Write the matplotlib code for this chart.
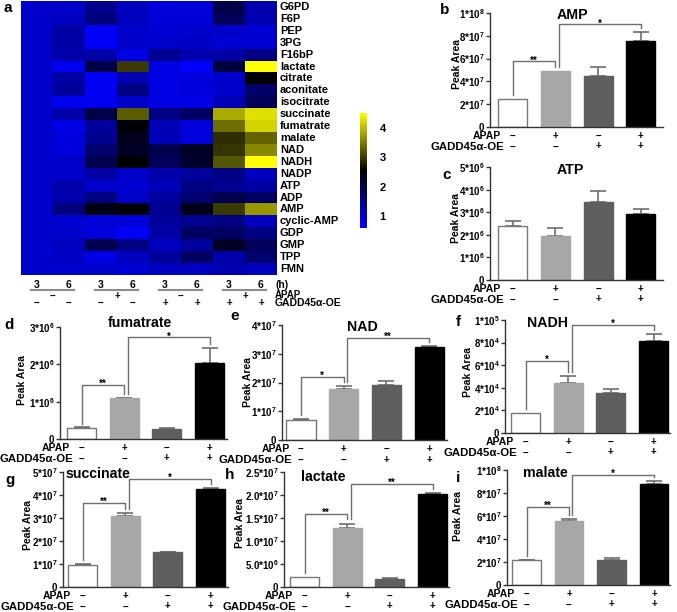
import numpy as np
import matplotlib
matplotlib.use('Agg')
import matplotlib.pyplot as plt
from matplotlib.colors import LinearSegmentedColormap
from matplotlib.transforms import blended_transform_factory

plt.rcParams['font.family'] = ['Liberation Sans', 'DejaVu Sans']
plt.rcParams['font.weight'] = 'bold'
plt.rcParams['mathtext.fontset'] = 'custom'
plt.rcParams['mathtext.rm'] = 'Liberation Sans:bold'
plt.rcParams['mathtext.bf'] = 'Liberation Sans:bold'
plt.rcParams['mathtext.it'] = 'Liberation Sans:bold:italic'
plt.rcParams['mathtext.sf'] = 'Liberation Sans:bold'

# ---------------- heatmap data ----------------
metabolites = ['G6PD', 'F6P', 'PEP', '3PG', 'F16bP', 'lactate', 'citrate', 'aconitate',
               'isocitrate', 'succinate', 'fumatrate', 'malate', 'NAD', 'NADH', 'NADP',
               'ATP', 'ADP', 'AMP', 'cyclic-AMP', 'GDP', 'GMP', 'TPP', 'FMN']
ctrl_3h = [1.00, 1.00, 1.00, 1.00, 1.00, 1.00, 1.00, 1.00, 1.00, 1.00, 1.00, 1.00,
           1.00, 1.00, 1.00, 1.00, 1.00, 1.00, 1.00, 1.00, 1.00, 1.00, 1.00]
ctrl_6h = [1.00, 1.05, 1.30, 1.30, 1.25, 0.70, 1.30, 1.35, 0.72, 1.25, 0.80, 0.85,
           0.85, 1.00, 1.00, 1.25, 1.20, 1.60, 0.95, 1.00, 1.10, 1.05, 1.00]
apap_3h = [1.48, 1.60, 0.65, 0.65, 1.30, 2.00, 0.70, 0.70, 0.72, 2.00, 1.35, 1.45,
           1.70, 1.95, 1.30, 1.00, 1.55, 2.40, 0.90, 0.87, 1.95, 0.80, 1.00]
apap_6h = [1.10, 1.10, 1.00, 1.00, 0.80, 3.00, 1.20, 1.55, 1.00, 3.25, 2.50, 2.35,
           2.25, 2.55, 1.00, 0.95, 1.00, 2.50, 0.90, 0.65, 1.55, 1.10, 0.95]
gadd_3h = [0.87, 0.90, 0.95, 1.00, 1.45, 0.80, 0.80, 0.80, 0.80, 1.55, 1.15, 1.15,
           1.95, 1.85, 1.25, 1.15, 1.35, 1.45, 1.35, 1.30, 1.10, 1.35, 1.10]
gadd_6h = [0.90, 0.90, 1.00, 1.05, 1.20, 0.60, 0.85, 0.85, 0.80, 1.80, 0.85, 0.90,
           2.25, 2.20, 1.35, 1.55, 1.70, 2.35, 1.45, 1.80, 1.35, 1.80, 1.10]
both_3h = [2.00, 1.85, 1.00, 0.95, 1.30, 2.10, 1.00, 1.00, 1.15, 3.85, 3.40, 2.90,
           2.95, 3.20, 1.55, 1.45, 1.95, 3.00, 1.55, 1.80, 2.25, 1.25, 1.20]
both_6h = [1.20, 1.20, 0.95, 0.95, 1.55, 4.50, 2.50, 1.75, 1.85, 4.25, 4.15, 3.30,
           3.60, 4.50, 1.10, 1.30, 1.80, 3.70, 1.10, 1.55, 1.85, 1.70, 1.10]
hours = ['3', '6', '3', '6', '3', '6', '3', '6']
heat_apap = ['−', '+', '−', '+']
heat_gadd = ['−', '−', '−', '−', '+', '+', '+', '+']
cbar_ticks = [1, 2, 3, 4]

# ---------------- bar data ----------------
apap_signs = ['−', '+', '−', '+']
gadd_signs = ['−', '−', '+', '+']

amp_mean = [2.5e7, 4.9e7, 4.5e7, 7.5e7]
amp_err = [0.0, 0.0, 0.8e7, 0.85e7]
atp_mean = [2.42e6, 1.96e6, 3.47e6, 2.93e6]
atp_err = [0.18e6, 0.36e6, 0.48e6, 0.23e6]
fum_mean = [0.29e6, 1.09e6, 0.28e6, 2.03e6]
fum_err = [0.02e6, 0.02e6, 0.01e6, 0.40e6]
nad_mean = [0.68e7, 1.78e7, 1.92e7, 3.22e7]
nad_err = [0.05e7, 0.10e7, 0.14e7, 0.06e7]
nadh_mean = [1.78e4, 4.44e4, 3.56e4, 8.1e4]
nadh_err = [0.0, 0.63e4, 0.34e4, 0.7e4]
succ_mean = [0.96e7, 3.09e7, 1.52e7, 4.24e7]
succ_err = [0.03e7, 0.11e7, 0.02e7, 0.06e7]
lact_mean = [0.22e7, 1.28e7, 0.17e7, 2.02e7]
lact_err = [0.0, 0.10e7, 0.02e7, 0.02e7]
mal_mean = [2.17e7, 5.57e7, 2.17e7, 8.78e7]
mal_err = [0.03e7, 0.2e7, 0.18e7, 0.3e7]

amp_ticks = [0, 2e7, 4e7, 6e7, 8e7, 1e8]
amp_labels = ['0', '2*10$^7$', '4*10$^7$', '6*10$^7$', '8*10$^7$', '1*10$^8$']
atp_ticks = [0, 1e6, 2e6, 3e6, 4e6, 5e6]
atp_labels = ['0', '1*10$^6$', '2*10$^6$', '3*10$^6$', '4*10$^6$', '5*10$^6$']
fum_ticks = [0, 1e6, 2e6, 3e6]
fum_labels = ['0', '1*10$^6$', '2*10$^6$', '3*10$^6$']
nad_ticks = [0, 1e7, 2e7, 3e7, 4e7]
nad_labels = ['0', '1*10$^7$', '2*10$^7$', '3*10$^7$', '4*10$^7$']
nadh_ticks = [0, 2e4, 4e4, 6e4, 8e4, 1e5]
nadh_labels = ['0', '2*10$^4$', '4*10$^4$', '6*10$^4$', '8*10$^4$', '1*10$^5$']
succ_ticks = [0, 1e7, 2e7, 3e7, 4e7, 5e7]
succ_labels = ['0', '1*10$^7$', '2*10$^7$', '3*10$^7$', '4*10$^7$', '5*10$^7$']
lact_ticks = [0, 5e6, 1e7, 1.5e7, 2e7, 2.5e7]
lact_labels = ['0', '5.0*10$^6$', '1.0*10$^7$', '1.5*10$^7$', '2.0*10$^7$', '2.5*10$^7$']
mal_ticks = [0, 2e7, 4e7, 6e7, 8e7, 1e8]
mal_labels = ['0', '2*10$^7$', '4*10$^7$', '6*10$^7$', '8*10$^7$', '1*10$^8$']

# significance brackets: (left bar, right bar, level, label)
amp_sig = [(0, 1, 5.75e7, '**'), (1, 3, 9.0e7, '*')]
atp_sig = []
fum_sig = [(0, 1, 1.44e6, '**'), (1, 3, 2.72e6, '*')]
nad_sig = [(0, 1, 2.2e7, '*'), (1, 3, 3.55e7, '**')]
nadh_sig = [(0, 1, 6.4e4, '*'), (1, 3, 9.6e4, '*')]
succ_sig = [(0, 1, 3.65e7, '**'), (1, 3, 4.7e7, '*')]
lact_sig = [(0, 1, 1.59e7, '**'), (1, 3, 2.24e7, '**')]
mal_sig = [(0, 1, 6.8e7, '**'), (1, 3, 9.55e7, '*')]

# ---------------- figure ----------------
W, H = 677, 612
fig = plt.figure(figsize=(W / 100, H / 100), dpi=100)


def rect(x0, y0, x1, y1):
    return [x0 / W, 1 - y1 / H, (x1 - x0) / W, (y1 - y0) / H]


def ftext(x, y, s, **kw):
    fig.text(x / W, 1 - y / H, s, **kw)


# ---- heatmap ----
HX0, HY0, HX1, HY1 = 21, 1, 277, 275
heat = np.array([ctrl_3h, ctrl_6h, apap_3h, apap_6h, gadd_3h, gadd_6h, both_3h, both_6h]).T
cmap = LinearSegmentedColormap.from_list('byk', ['#0000ff', '#000000', '#ffff00'])
axh = fig.add_axes(rect(HX0, HY0, HX1, HY1))
im = axh.imshow(heat, aspect='auto', cmap=cmap, vmin=0.6, vmax=4.5, interpolation='nearest')
axh.set_axis_off()
for r, name in enumerate(metabolites):
    axh.annotate(name, xy=(len(hours) - 0.5, r), xytext=(3, 0), textcoords='offset pixels',
                 ha='left', va='center', fontsize=8, annotation_clip=False)

tb = blended_transform_factory(axh.transData, axh.transAxes)


def hy(ypx):
    return (HY1 - ypx) / (HY1 - HY0)


for c, h in enumerate(hours):
    axh.text(c, hy(285), h, transform=tb, ha='center', va='center', fontsize=7.5)
    axh.text(c, hy(303), heat_gadd[c], transform=tb, ha='center', va='center', fontsize=7)
for p, s in enumerate(heat_apap):
    axh.plot([2 * p - 0.2, 2 * p + 1 + 0.15], [hy(290), hy(290)], transform=tb,
             color='#8c8c8c', lw=1.5, clip_on=False)
    axh.text(2 * p + 0.5, hy(295.5), s, transform=tb, ha='center', va='center', fontsize=7)
ftext(275, 285, '(h)', ha='left', va='center', fontsize=7.5)
ftext(275, 295, 'APAP', ha='left', va='center', fontsize=7)
ftext(275, 303, 'GADD45α-OE', ha='left', va='center', fontsize=7.5)

cax = fig.add_axes(rect(360, 113, 367, 228))
cb = fig.colorbar(im, cax=cax, ticks=cbar_ticks)
cb.outline.set_visible(False)
cax.tick_params(length=0, pad=9, labelsize=8)

# ---- bar panels ----
bar_colors = ['#ffffff', '#a7a7a9', '#5f5f5f', '#000000']
edge_colors = ['#777777', '#a7a7a9', '#5f5f5f', '#000000']
line_col = '#6e6e6e'


def bar_panel(L, T, R, B, c0, s, means, errs, ticks, labels, sig, title, tpos, letter, lpos, ylpos):
    ax = fig.add_axes(rect(L, T, R, B))
    x = np.arange(len(means))
    ax.bar(x, means, width=0.68, color=bar_colors, edgecolor=edge_colors, linewidth=1.0, zorder=2)
    ex = [i for i in x if errs[i] > 0]
    ax.errorbar(ex, [means[i] for i in ex], yerr=[[0] * len(ex), [errs[i] for i in ex]],
                fmt='none', ecolor=line_col, elinewidth=1.2, capsize=5.5, capthick=1.2, zorder=1)
    ax.set_xlim((L - c0) / s, (R - c0) / s)
    ymax = ticks[-1]
    ax.set_ylim(0, ymax)
    ax.set_yticks(ticks)
    ax.set_yticklabels(labels)
    ax.set_xticks([])
    for sp in ['top', 'right']:
        ax.spines[sp].set_visible(False)
    for sp in ['left', 'bottom']:
        ax.spines[sp].set_color('#333333')
        ax.spines[sp].set_linewidth(1.0)
    ax.tick_params(axis='y', length=3, width=1, color='#333333', labelsize=7, pad=1)
    for i in x:
        ax.annotate(apap_signs[i], xy=(i, 0), xycoords=('data', 'axes fraction'), xytext=(0, -9),
                    textcoords='offset pixels', ha='center', va='center', fontsize=7, annotation_clip=False)
        ax.annotate(gadd_signs[i], xy=(i, 0), xycoords=('data', 'axes fraction'), xytext=(0, -19.5),
                    textcoords='offset pixels', ha='center', va='center', fontsize=7, annotation_clip=False)
    ax.annotate('APAP', xy=(0, 0), xycoords=('data', 'axes fraction'), xytext=(-11.5, -9),
                textcoords='offset pixels', ha='right', va='center', fontsize=7.5, annotation_clip=False)
    ax.annotate('GADD45α-OE', xy=(0, 0), xycoords=('data', 'axes fraction'), xytext=(-8.5, -20),
                textcoords='offset pixels', ha='right', va='center', fontsize=8.2, annotation_clip=False)
    gap = 0.035 * ymax
    for k, (i, j, lev, lab) in enumerate(sig):
        xi = i + (0.08 if k == 1 else 0.0)
        ax.plot([xi, xi, j, j], [means[i] + errs[i] + gap, lev, lev, means[j] + errs[j] + gap],
                color=line_col, lw=1.0, clip_on=False)
        ax.annotate(lab, xy=((xi + j) / 2, lev), xytext=(0, -2), textcoords='offset pixels',
                    ha='center', va='baseline', fontsize=7, annotation_clip=False)
    ftext(tpos[0], tpos[1], title, ha='center', va='center', fontsize=10.2)
    ftext(lpos[0], lpos[1], letter, ha='center', va='center', fontsize=11)
    ftext(ylpos[0], ylpos[1], 'Peak Area', rotation=90, ha='center', va='center', fontsize=7.5)
    return ax


bar_panel(490, 13, 663, 127, 512.5, 42.8, amp_mean, amp_err, amp_ticks, amp_labels, amp_sig,
          'AMP', (572, 15), 'b', (445, 10), (457, 64))
bar_panel(490, 167.5, 663, 280, 512.5, 42.8, atp_mean, atp_err, atp_ticks, atp_labels, atp_sig,
          'ATP', (570, 170), 'c', (447, 175), (456, 218))
bar_panel(60, 327, 227, 439, 81.5, 42.7, fum_mean, fum_err, fum_ticks, fum_labels, fum_sig,
          'fumatrate', (140, 323), 'd', (9, 325), (22, 380))
bar_panel(282, 325, 447, 440, 301, 42.7, nad_mean, nad_err, nad_ticks, nad_labels, nad_sig,
          'NAD', (362, 327), 'e', (235, 316), (248, 382))
bar_panel(505, 320, 670, 433, 525.5, 42.7, nadh_mean, nadh_err, nadh_ticks, nadh_labels, nadh_sig,
          'NADH', (547, 323), 'f', (458, 322), (468, 372))
bar_panel(63, 472, 228, 587, 82.5, 42.7, succ_mean, succ_err, succ_ticks, succ_labels, succ_sig,
          'succinate', (98, 474), 'g', (10, 480), (28, 525))
bar_panel(284, 472, 449, 587, 304.5, 42.7, lact_mean, lact_err, lact_ticks, lact_labels, lact_sig,
          'lactate', (323, 477), 'h', (230, 475), (240, 523))
bar_panel(507, 470, 670, 585, 526.5, 42.5, mal_mean, mal_err, mal_ticks, mal_labels, mal_sig,
          'malate', (545, 473), 'i', (458, 478), (458, 516))

ftext(8, 8, 'a', ha='center', va='center', fontsize=11)

fig.savefig('out.png', dpi=100)
